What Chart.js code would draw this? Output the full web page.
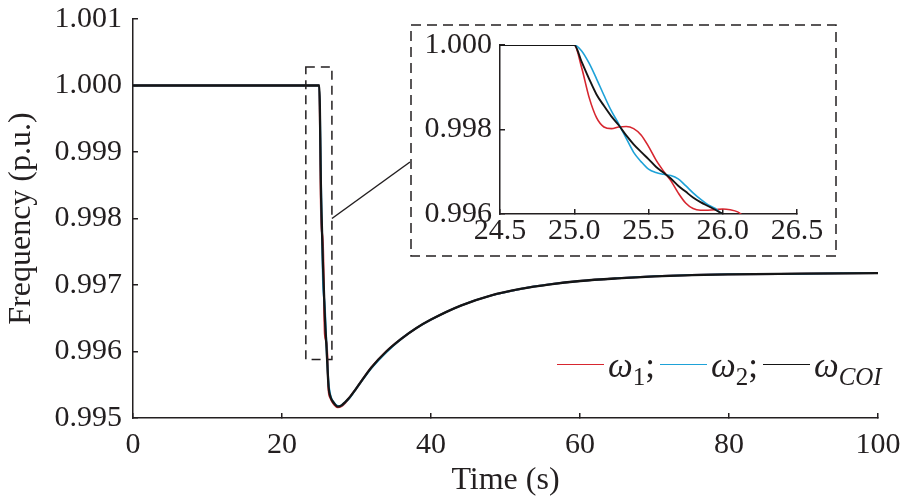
<!DOCTYPE html>
<html>
<head>
<meta charset="utf-8">
<script src="https://cdn.jsdelivr.net/npm/chart.js@4.4.1/dist/chart.umd.min.js"></script>
<style>
  html, body { margin: 0; padding: 0; background: #fff; }
  #wrap { position: relative; width: 903px; height: 502px; overflow: hidden; }
  #main { position: absolute; left: 0; top: 0; }
  #inset { position: absolute; left: 410px; top: 24px; }
  #legend { position: absolute; left: 557px; top: 346px; font-family: 'Liberation Serif', serif; font-size: 35px;
            color: #231f20; white-space: nowrap; line-height: 40px; }
  #legend .sw { display: inline-block; width: 47px; height: 0; border-top: 1.6px solid; vertical-align: middle;
                margin-right: 4px; position: relative; top: -4px; }
  #legend .item { margin-right: 5px; }
  #legend sub { font-size: 25px; vertical-align: -8px; line-height: 0; }
</style>
</head>
<body>
<div id="wrap">
  <canvas id="main" width="903" height="502"></canvas>
  <canvas id="inset" width="427" height="233"></canvas>
  <div id="legend"></div>
</div>
<script>
// main plot: time (s) and frequency (p.u.)
const mainTime = [0, 25, 25.25, 25.5, 25.75, 26, 26.25, 26.5, 27, 27.5, 28, 28.5, 29, 30, 32, 34, 36, 38,
                  40, 44, 48, 52, 56, 60, 65, 70, 75, 80, 90, 100];
const mainW1  = [1.00000, 1.00000, 0.99802, 0.99760, 0.99626, 0.99612, 0.99542, 0.99530, 0.99520, 0.99516,
                 0.99518, 0.99523, 0.99530, 0.99545, 0.99576, 0.99600, 0.99619, 0.99635, 0.99648, 0.99669,
                 0.99684, 0.99694, 0.99701, 0.99706, 0.99710, 0.99713, 0.99715, 0.99716, 0.99717, 0.99718];
const mainW2  = [1.00000, 1.00000, 0.99844, 0.99706, 0.99667, 0.99601, 0.99552, 0.99534, 0.99523, 0.99518,
                 0.99519, 0.99524, 0.99529, 0.99545, 0.99575, 0.99599, 0.99619, 0.99635, 0.99648, 0.99669,
                 0.99684, 0.99694, 0.99701, 0.99706, 0.99710, 0.99713, 0.99715, 0.99716, 0.99717, 0.99718];
const mainCOI = [1.00000, 1.00000, 0.99831, 0.99730, 0.99653, 0.99601, 0.99547, 0.99532, 0.99522, 0.99517,
                 0.99519, 0.99524, 0.99530, 0.99545, 0.99576, 0.99600, 0.99619, 0.99635, 0.99648, 0.99669,
                 0.99684, 0.99694, 0.99701, 0.99706, 0.99710, 0.99713, 0.99715, 0.99716, 0.99717, 0.99718];
const mainXTicks = [0, 20, 40, 60, 80, 100];
const mainYTicks = [0.995, 0.996, 0.997, 0.998, 0.999, 1.000, 1.001];

// zoomed window 24.5 - 26.5 s
const insetTime = [24.5, 25.0, 25.05, 25.1, 25.15, 25.2, 25.25, 25.3, 25.35, 25.4, 25.45, 25.5, 25.55,
                   25.6, 25.65, 25.7, 25.75, 25.8, 25.85, 25.9, 25.95, 26.0, 26.05, 26.1, 26.15];
const insetW1  = [1.0000, 1.0000, 0.99946, 0.99876, 0.99828, 0.99806, 0.99802, 0.99806, 0.99807, 0.99802,
                  0.99787, 0.99760, 0.99728, 0.99702, 0.99679, 0.99650, 0.99626, 0.99613, 0.99609, 0.99609,
                  0.99610, 0.99612, 0.99610, 0.99605, 0.99592];
const insetW2  = [1.0000, 1.0000, 0.99986, 0.99957, 0.99920, 0.99881, 0.99844, 0.99813, 0.99779, 0.99746,
                  0.99724, 0.99706, 0.99698, 0.99694, 0.99691, 0.99683, 0.99667, 0.99650, 0.99635, 0.99622,
                  0.99613, 0.99598, null, null, null];
const insetCOI = [1.0000, 1.0000, 0.99960, 0.99920, 0.99883, 0.99856, 0.99831, 0.99810, 0.99786, 0.99765,
                  0.99747, 0.99730, 0.99712, 0.99698, 0.99684, 0.99667, 0.99653, 0.99639, 0.99628, 0.99619,
                  0.99610, 0.99600, null, null, null];
const insetXTicks = [24.5, 25.0, 25.5, 26.0, 26.5];
const insetYTicks = [0.996, 0.998, 1.000];

const seriesNames = ['ω', 'ω', 'ω'];
const seriesSubs = ['1', '2', 'COI'];
const seriesColors = ['#d7262f', '#1ea2d8', '#151515'];

// region of the main plot that is blown up in the inset
const zoomBox = { x0: 23.2, x1: 26.7, y0: 0.99588, y1: 1.00028 };

const ink = '#231f20';
const serif = 'Liberation Serif';

function toPoints(xs, ys) {
    return xs.map((x, i) => ({ x: x, y: ys[i] }));
}

function makeDatasets(xs, series, width) {
    return series.map((ys, i) => ({
        label: seriesNames[i] + seriesSubs[i],
        data: toPoints(xs, ys),
        borderColor: seriesColors[i],
        borderWidth: i === 2 ? width + 0.3 : width,
        pointRadius: 0,
        cubicInterpolationMode: 'monotone',
        order: 3 - i
    }));
}

// scale box size is fixed by hand and the label overhang padding is dropped,
// so the plot area sits exactly where the layout padding puts it
function axis(min, max, tickVals, digits, pad, size) {
    return {
        type: 'linear', min: min, max: max,
        afterBuildTicks: s => { s.ticks = tickVals.map(v => ({ value: v })); },
        afterFit: s => {
            if (s.isHorizontal()) s.height = size; else s.width = size;
            s.paddingTop = s.paddingBottom = s.paddingLeft = s.paddingRight = 0;
        },
        ticks: { callback: v => v.toFixed(digits), font: { family: serif, size: 30 }, color: ink,
                 padding: pad, maxRotation: 0, autoSkip: false },
        grid: { drawOnChartArea: false, drawTicks: true, tickLength: -5, color: ink, lineWidth: 1.5 },
        border: { display: true, color: ink, width: 1.5 }
    };
}

const zoomMarks = {
    id: 'zoomMarks',
    afterDatasetsDraw(chart) {
        const { ctx, scales: { x, y } } = chart;
        const l = x.getPixelForValue(zoomBox.x0), r = x.getPixelForValue(zoomBox.x1);
        const t = y.getPixelForValue(zoomBox.y1), b = y.getPixelForValue(zoomBox.y0);
        ctx.save();
        ctx.strokeStyle = ink;
        ctx.lineWidth = 1.5;
        ctx.setLineDash([9, 6]);
        ctx.strokeRect(l, t, r - l, b - t);
        ctx.setLineDash([]);
        // leader line over to the inset frame
        const inset = document.getElementById('inset');
        ctx.beginPath();
        ctx.moveTo(r, y.getPixelForValue(0.998));
        ctx.lineTo(inset.offsetLeft, inset.offsetTop + 138);
        ctx.stroke();
        ctx.restore();
    }
};

const insetFrame = {
    id: 'insetFrame',
    beforeDraw(chart) {
        const { ctx, width, height } = chart;
        ctx.save();
        ctx.fillStyle = '#fff';
        ctx.fillRect(0, 0, width, height);
        ctx.strokeStyle = ink;
        ctx.lineWidth = 1.5;
        ctx.setLineDash([10, 6]);
        ctx.strokeRect(1, 1, width - 2, height - 2);
        ctx.restore();
    }
};

const common = {
    responsive: false,
    animation: false,
    events: [],
    plugins: { legend: { display: false }, tooltip: { enabled: false } }
};

function drawCharts() {
    Chart.defaults.font.family = serif;

    const mainX = axis(0, 100, mainXTicks, 0, 14, 84);
    mainX.title = { display: true, text: 'Time (s)', font: { family: serif, size: 32 }, color: ink,
                    padding: { top: 0, bottom: 2 } };
    const mainY = axis(0.995, 1.001, mainYTicks, 3, 16, 133);
    mainY.title = { display: true, text: 'Frequency (p.u.)', font: { family: serif, size: 32 }, color: ink,
                    padding: { top: 2, bottom: 0 } };

    new Chart(document.getElementById('main'), {
        type: 'line',
        data: { datasets: makeDatasets(mainTime, [mainW1, mainW2, mainCOI], 2) },
        options: Object.assign({}, common, {
            layout: { padding: { top: 19, right: 25, left: 0, bottom: 0 } },
            scales: { x: mainX, y: mainY }
        }),
        plugins: [zoomMarks]
    });

    new Chart(document.getElementById('inset'), {
        type: 'line',
        data: { datasets: makeDatasets(insetTime, [insetW1, insetW2, insetCOI], 1.6) },
        options: Object.assign({}, common, {
            layout: { padding: { top: 21, right: 40, left: 0, bottom: 0 } },
            scales: {
                x: axis(24.5, 26.5, insetXTicks, 1, 4, 43),
                y: axis(0.996, 1.000, insetYTicks, 3, 13, 90)
            }
        }),
        plugins: [insetFrame]
    });
}

// legend with subscripts, built from the series lists
document.getElementById('legend').innerHTML = seriesNames.map((n, i) => {
    const sub = seriesSubs[i] === 'COI' ? '<i>COI</i>' : seriesSubs[i];
    const sep = i < seriesNames.length - 1 ? ';' : '';
    return '<span class="item"><span class="sw" style="border-color:' + seriesColors[i] + '"></span>' +
           '<i>' + n + '</i><sub>' + sub + '</sub>' + sep + '</span>';
}).join('');

document.fonts.load("30px 'Liberation Serif'").then(drawCharts, drawCharts);
</script>
</body>
</html>
